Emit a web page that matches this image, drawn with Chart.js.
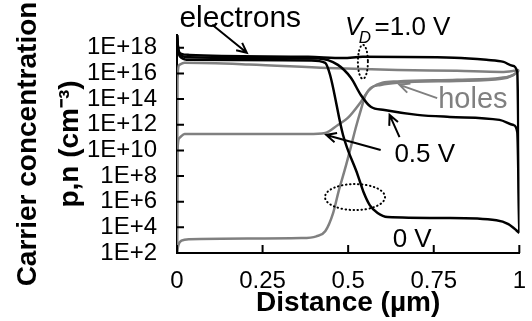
<!DOCTYPE html>
<html>
<head>
<meta charset="utf-8">
<script src="https://cdn.jsdelivr.net/npm/chart.js@4.4.1/dist/chart.umd.min.js"></script>
<style>
  html, body { margin: 0; padding: 0; background: #fff; }
</style>
</head>
<body>
<canvas id="myChart" width="532" height="321"></canvas>
<script>
// axis ticks
const xTickValues = [0, 0.25, 0.5, 0.75, 1];
const xTickLabels = ['0', '0.25', '0.5', '0.75', '1'];
const yTickValues = [1e2, 1e4, 1e6, 1e8, 1e10, 1e12, 1e14, 1e16, 1e18];
const yTickLabels = ['1E+2', '1E+4', '1E+6', '1E+8', '1E+10', '1E+12', '1E+14', '1E+16', '1E+18'];

// electrons (black)
const e10X = [0, 0.004, 0.013, 0.036, 0.383, 0.485, 0.543, 0.81, 0.904, 0.954, 0.98, 0.994, 1.0];
const e10Y = [1e19, 7e17, 3.4e17, 2.8e17, 2e17, 1.6e17, 2e17, 1.7e17, 1.15e17, 8e16, 4e16, 1.3e16, 4e3];

const e05X = [0, 0.004, 0.013, 0.036, 0.383, 0.412, 0.47, 0.508, 0.537, 0.566, 0.606, 0.702, 0.797, 0.942, 0.983, 0.994, 1.0];
const e05Y = [1e19, 6e17, 2.4e17, 1.8e17, 1.5e17, 1.5e17, 4.7e16, 4.6e15, 2.1e14, 2.5e13, 1.4e13, 5.9e12, 4.1e12, 2.4e12, 9.5e11, 2.7e11, 4e3];

const e00X = [0, 0.004, 0.013, 0.036, 0.392, 0.433, 0.447, 0.485, 0.528, 0.546, 0.563, 0.586, 0.615, 0.789, 0.933, 0.968, 0.991, 1.0];
const e00Y = [1e19, 4.9e17, 1.7e17, 1.15e17, 1.05e17, 6.8e16, 8e15, 1.6e11, 1.2e8, 4.7e6, 5.4e5, 1.3e5, 6.3e4, 5.3e4, 3.6e4, 1.8e4, 6e3, 3.5e3];

// holes (grey)
const h10X = [0, 0.0015, 0.007, 0.022, 0.21, 0.441, 0.644, 0.818, 0.948, 0.983, 1.0];
const h10Y = [1e2, 3.2e15, 4.7e16, 6.8e16, 5.1e16, 2.7e16, 1.9e16, 1.6e16, 1.33e16, 1.6e16, 1.9e16];

const h05X = [0, 0.0015, 0.007, 0.022, 0.21, 0.383, 0.433, 0.47, 0.499, 0.537, 0.566, 0.595, 0.644, 0.818, 0.948, 0.983, 1.0];
const h05Y = [1e2, 1.07e10, 9.3e10, 1.9e11, 1.9e11, 1.9e11, 2.3e11, 9.6e11, 3.4e12, 6e13, 7.5e14, 1.26e15, 1.85e15, 2.6e15, 3.8e15, 7.8e15, 1.9e16];

const h00X = [0, 0.004, 0.013, 0.036, 0.363, 0.407, 0.433, 0.456, 0.473, 0.49, 0.508, 0.522, 0.537, 0.551, 0.572, 0.6, 0.644, 0.818, 0.948, 0.983, 1.0];
const h00Y = [1e2, 4.1e2, 9.1e2, 1.2e3, 1.45e3, 2e3, 5e3, 1.3e5, 8.1e6, 3e8, 1.9e10, 5.6e11, 1.4e13, 2.1e14, 9e14, 1.9e15, 2.4e15, 3.2e15, 4.6e15, 7.8e15, 1.9e16];

const BLACK = '#000000';
const GREY = '#808080';
const FONT = '"Liberation Sans", Arial, sans-serif';

function toPoints(xs, ys) {
    return xs.map((x, i) => ({ x: x, y: ys[i] }));
}

function series(label, xs, ys, color) {
    return {
        label: label,
        data: toPoints(xs, ys),
        borderColor: color,
        backgroundColor: color,
        borderWidth: 2.5,
        pointRadius: 0,
        fill: false,
        cubicInterpolationMode: 'monotone'
    };
}

// helpers for the annotation plugin
function arrow(ctx, x1, y1, x2, y2) {
    const a = Math.atan2(y2 - y1, x2 - x1);
    const h = 11;
    ctx.beginPath();
    ctx.moveTo(x1, y1);
    ctx.lineTo(x2, y2);
    ctx.moveTo(x2 - h * Math.cos(a - 0.45), y2 - h * Math.sin(a - 0.45));
    ctx.lineTo(x2, y2);
    ctx.lineTo(x2 - h * Math.cos(a + 0.45), y2 - h * Math.sin(a + 0.45));
    ctx.stroke();
}

const annotations = {
    id: 'annotations',
    afterDraw(chart) {
        const ctx = chart.ctx;
        const xs = chart.scales.x;
        const ys = chart.scales.y;
        const area = chart.chartArea;
        const X = v => xs.getPixelForValue(v);
        const Y = v => ys.getPixelForValue(v);

        ctx.save();
        // inward tick marks
        ctx.strokeStyle = BLACK;
        ctx.lineWidth = 2;
        ctx.beginPath();
        xTickValues.forEach(v => {
            ctx.moveTo(X(v), area.bottom);
            ctx.lineTo(X(v), area.bottom - 8);
        });
        yTickValues.forEach(v => {
            ctx.moveTo(area.left, Y(v));
            ctx.lineTo(area.left + 7, Y(v));
        });
        ctx.stroke();

        // labels
        ctx.textBaseline = 'alphabetic';
        ctx.textAlign = 'left';
        ctx.fillStyle = BLACK;
        ctx.font = '30px ' + FONT;
        ctx.fillText('electrons', X(0.007), Y(4.4e19));
        ctx.font = 'italic 26px ' + FONT;
        ctx.fillText('V', X(0.491), Y(1.05e19));
        ctx.font = 'italic 17px ' + FONT;
        ctx.fillText('D', X(0.531), Y(2.5e18));
        ctx.font = '26px ' + FONT;
        ctx.fillText('=1.0 V', X(0.577), Y(1.05e19));
        ctx.fillText('0.5 V', X(0.635), Y(1.2e9));
        ctx.fillText('0 V', X(0.63), Y(2.8e2));
        ctx.fillStyle = GREY;
        ctx.font = '29px ' + FONT;
        ctx.fillText('holes', X(0.763), Y(2e13));

        // arrows
        ctx.lineWidth = 2;
        ctx.strokeStyle = BLACK;
        arrow(ctx, X(0.103), Y(6.3e19), X(0.204), Y(4.1e17));
        arrow(ctx, X(0.65), Y(1.1e11), X(0.621), Y(5.9e12));
        arrow(ctx, X(0.595), Y(1.07e10), X(0.436), Y(1.6e11));
        ctx.strokeStyle = GREY;
        arrow(ctx, X(0.76), Y(1.2e14), X(0.65), Y(1.3e15));

        // dotted ellipses
        ctx.strokeStyle = BLACK;
        ctx.lineWidth = 2;
        ctx.lineCap = 'round';
        ctx.setLineDash([0.5, 3.5]);
        ctx.beginPath();
        ctx.ellipse(X(0.543), Y(8.1e16), 5, 17, 0, 0, Math.PI * 2);
        ctx.stroke();
        ctx.beginPath();
        ctx.ellipse(X(0.52), Y(2.3e6), 30, 13, 0, 0, Math.PI * 2);
        ctx.stroke();
        ctx.restore();
    }
};

Chart.defaults.font.family = FONT;
Chart.defaults.color = BLACK;

const ctx = document.getElementById('myChart').getContext('2d');
window.myChart = new Chart(ctx, {
    type: 'line',
    data: {
        datasets: [
            series('electrons 1.0 V', e10X, e10Y, BLACK),
            series('electrons 0.5 V', e05X, e05Y, BLACK),
            series('electrons 0 V', e00X, e00Y, BLACK),
            series('holes 1.0 V', h10X, h10Y, GREY),
            series('holes 0.5 V', h05X, h05Y, GREY),
            series('holes 0 V', h00X, h00Y, GREY)
        ]
    },
    options: {
        responsive: false,
        animation: false,
        layout: { padding: { top: 35, right: 9, left: 0, bottom: 0 } },
        plugins: {
            legend: { display: false },
            tooltip: { enabled: false }
        },
        scales: {
            x: {
                type: 'linear',
                min: 0,
                max: 1,
                afterBuildTicks: s => { s.ticks = xTickValues.map(v => ({ value: v })); },
                afterFit: s => { s.height = 68; },
                ticks: {
                    callback: (v, i) => xTickLabels[i],
                    font: { size: 24 },
                    color: BLACK,
                    padding: 6,
                    maxRotation: 0,
                    autoSkip: false
                },
                grid: { display: false },
                border: { display: true, color: BLACK, width: 2 },
                title: {
                    display: true,
                    text: 'Distance (\u00b5m)',
                    font: { size: 28, weight: 'bold' },
                    color: BLACK,
                    padding: { top: 0, bottom: 1 }
                }
            },
            y: {
                type: 'logarithmic',
                min: 1e2,
                max: 1e19,
                afterBuildTicks: s => { s.ticks = yTickValues.map(v => ({ value: v })); },
                afterFit: s => { s.width = 177; },
                ticks: {
                    callback: (v, i) => yTickLabels[i],
                    font: { size: 24 },
                    color: BLACK,
                    padding: 12,
                    autoSkip: false
                },
                grid: { display: false },
                border: { display: true, color: BLACK, width: 2 },
                title: {
                    display: true,
                    text: ['Carrier concentration', 'p,n (cm\u207b\u00b3)'],
                    font: { size: 28, weight: 'bold', lineHeight: 1.5 },
                    color: BLACK,
                    padding: { top: 7, bottom: 0 }
                }
            }
        }
    },
    plugins: [annotations]
});
</script>
</body>
</html>
